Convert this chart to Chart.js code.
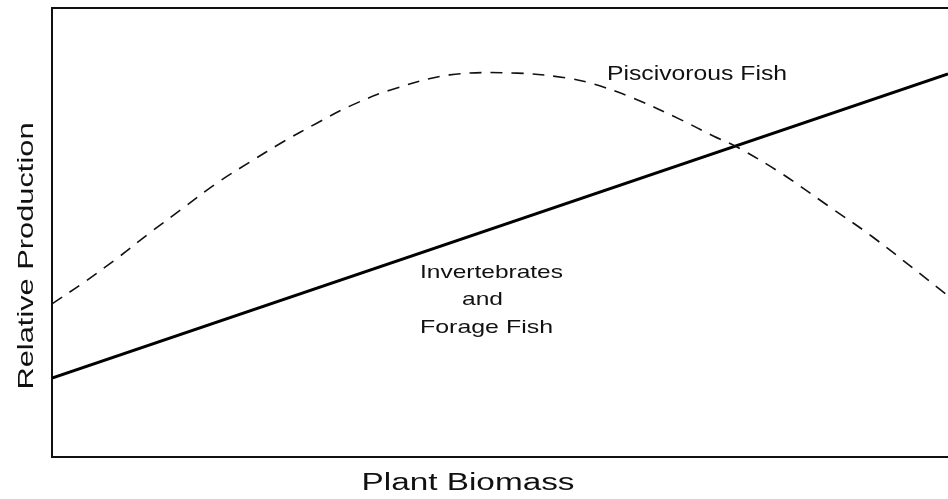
<!DOCTYPE html>
<html>
<head>
<meta charset="utf-8">
<script src="https://cdn.jsdelivr.net/npm/chart.js@4"></script>
<style>
html,body{margin:0;padding:0;background:#fff;}
#wrap{width:948px;height:499px;}
</style>
</head>
<body>
<div id="wrap"><canvas id="c" width="948" height="499"></canvas></div>
<script>
// ---- data (relative units, 0-100 on both axes) ----
const piscivorousX = [0, 3.5, 7.3, 10.9, 14.6, 18.4, 22.1, 25.8, 29.6, 33.3, 37.7, 44.4, 51.9, 57.5, 60.4, 64.8, 70.1, 73.8, 76.5, 81.3, 86.8, 91.6, 100];
const piscivorousY = [34.1, 38.8, 44.3, 49.9, 55.4, 61.0, 65.7, 70.2, 74.4, 78.2, 81.7, 85.1, 85.5, 84.4, 83.1, 80.0, 75.2, 71.5, 69.0, 63.3, 55.7, 49.0, 35.9];
const invertX = [0, 100];
const invertY = [17.6, 85.3];
const xAxisTitle = "Plant Biomass";
const yAxisTitle = "Relative Production";
const seriesLabels = ["Piscivorous Fish", ["Invertebrates", "and", "Forage Fish"]];

const toPts = (xs, ys) => xs.map((x, i) => ({x: x, y: ys[i]}));

const FONT = '"Liberation Sans", Arial, Helvetica, sans-serif';

function fitText(ctx, text, x, y, size, width, align) {
  ctx.save();
  ctx.font = size + 'px ' + FONT;
  const w = ctx.measureText(text).width;
  const sx = width / w;
  ctx.translate(x, y);
  ctx.scale(sx, 1);
  ctx.textBaseline = 'alphabetic';
  ctx.textAlign = align || 'left';
  ctx.fillText(text, 0, 0);
  ctx.restore();
}

const decor = {
  id: 'decor',
  afterDraw(chart) {
    const ctx = chart.ctx;
    const a = chart.chartArea;
    ctx.save();
    // top frame line
    ctx.strokeStyle = '#111';
    ctx.lineWidth = 2;
    ctx.beginPath();
    ctx.moveTo(a.left - 1, a.top);
    ctx.lineTo(a.right, a.top);
    ctx.stroke();
    ctx.fillStyle = '#111';
    // axis titles
    fitText(ctx, xAxisTitle, 468, 490, 23, 213, 'center');
    ctx.save();
    ctx.translate(33, 256);
    ctx.rotate(-Math.PI / 2);
    fitText(ctx, yAxisTitle, 0, 0, 22, 267, 'center');
    ctx.restore();
    // series labels
    fitText(ctx, seriesLabels[0], 607, 80, 20, 180, 'left');
    fitText(ctx, seriesLabels[1][0], 420, 278, 19, 143, 'left');
    fitText(ctx, seriesLabels[1][1], 462, 305, 19, 41, 'left');
    fitText(ctx, seriesLabels[1][2], 420, 333, 19, 133, 'left');
    ctx.restore();
  }
};

new Chart(document.getElementById('c'), {
  type: 'line',
  data: {
    datasets: [
      {
        label: 'Piscivorous Fish',
        data: toPts(piscivorousX, piscivorousY),
        borderColor: '#111',
        borderWidth: 1.6,
        borderDash: [12, 9],
        pointRadius: 0,
        tension: 0.35,
        fill: false
      },
      {
        label: 'Invertebrates and Forage Fish',
        data: toPts(invertX, invertY),
        borderColor: '#000',
        borderWidth: 3,
        pointRadius: 0,
        tension: 0,
        fill: false
      }
    ]
  },
  options: {
    responsive: false,
    animation: false,
    events: [],
    layout: { padding: { top: 8, right: 0, left: 0, bottom: 0 } },
    plugins: { legend: { display: false }, tooltip: { enabled: false } },
    scales: {
      x: {
        type: 'linear', min: 0, max: 100,
        ticks: { display: false },
        grid: { display: false },
        border: { display: true, color: '#111', width: 2 },
        afterFit(s) { s.height = 42; }
      },
      y: {
        type: 'linear', min: 0, max: 100,
        ticks: { display: false },
        grid: { display: false },
        border: { display: true, color: '#111', width: 2 },
        afterFit(s) { s.width = 52; }
      }
    }
  },
  plugins: [decor]
});
</script>
</body>
</html>
